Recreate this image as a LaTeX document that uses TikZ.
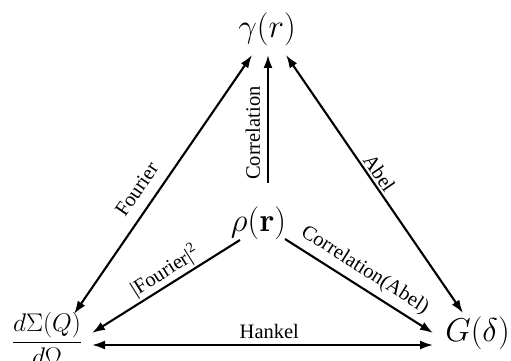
\RequirePackage{fix-cm}
\documentclass[tikz,border=0pt]{standalone}
\usepackage[no-math]{fontspec}
\setmainfont{Liberation Serif}
\usetikzlibrary{arrows.meta}
\begin{document}
\begin{tikzpicture}[x=1pt,y=-1pt,
  big/.style={inner sep=0pt,outer sep=0pt,font=\fontsize{33}{40}\selectfont},
  lab/.style={font=\fontsize{20.5}{24}\selectfont, sloped, above, inner sep=3pt},
  tip/.tip={Latex[length=13pt,width=9pt]},
  arr/.style={line width=2.1pt, -tip},
  rarr/.style={line width=2.1pt, tip-},
  darr/.style={line width=2.1pt, tip-tip}]
\useasboundingbox (0,0) rectangle (511,361);
\node[big] (gamma) at (267,29) {$\gamma(r)$};
\node[big] (rho) at (258.5,223) {$\rho(\mathbf{r})$};
\node[big] (G) at (477.5,333) {$G(\delta)$};
\node[inner sep=0pt, outer sep=0pt, font=\fontsize{25.5}{30}\selectfont] (dsig) at (47,339) {$\displaystyle\frac{d\Sigma(Q)}{d\Omega}$};
\draw[darr] ([shift={(27,-25)}]dsig.center) -- node[lab, pos=0.44, inner sep=11pt] {Fourier} ([shift={(-15,26)}]gamma.center);
\draw[arr] ([shift={(9.5,-40)}]rho.center) -- node[lab, pos=0.39, inner sep=7pt] {Correlation} ([shift={(1,26)}]gamma.center);
\draw[darr] ([shift={(19,26)}]gamma.center) -- node[lab, pos=0.48, inner sep=2pt] {Abel} ([shift={(-14.5,-20)}]G.center);
\draw[rarr] ([shift={(45,-6)}]dsig.center) -- node[lab, pos=0.54, inner sep=2pt] {\textbar Fourier\textbar\textsuperscript{2}} ([shift={(-18.5,17)}]rho.center);
\draw[arr] ([shift={(26.5,16)}]rho.center) -- node[lab, pos=0.48, inner sep=6pt] {Correlation(Abel)} ([shift={(-44.5,0)}]G.center);
\draw[darr] ([shift={(45,6)}]dsig.center) -- node[lab, pos=0.52, inner sep=5pt] {Hankel} ([shift={(-44.5,12)}]G.center);
\end{tikzpicture}
\end{document}
